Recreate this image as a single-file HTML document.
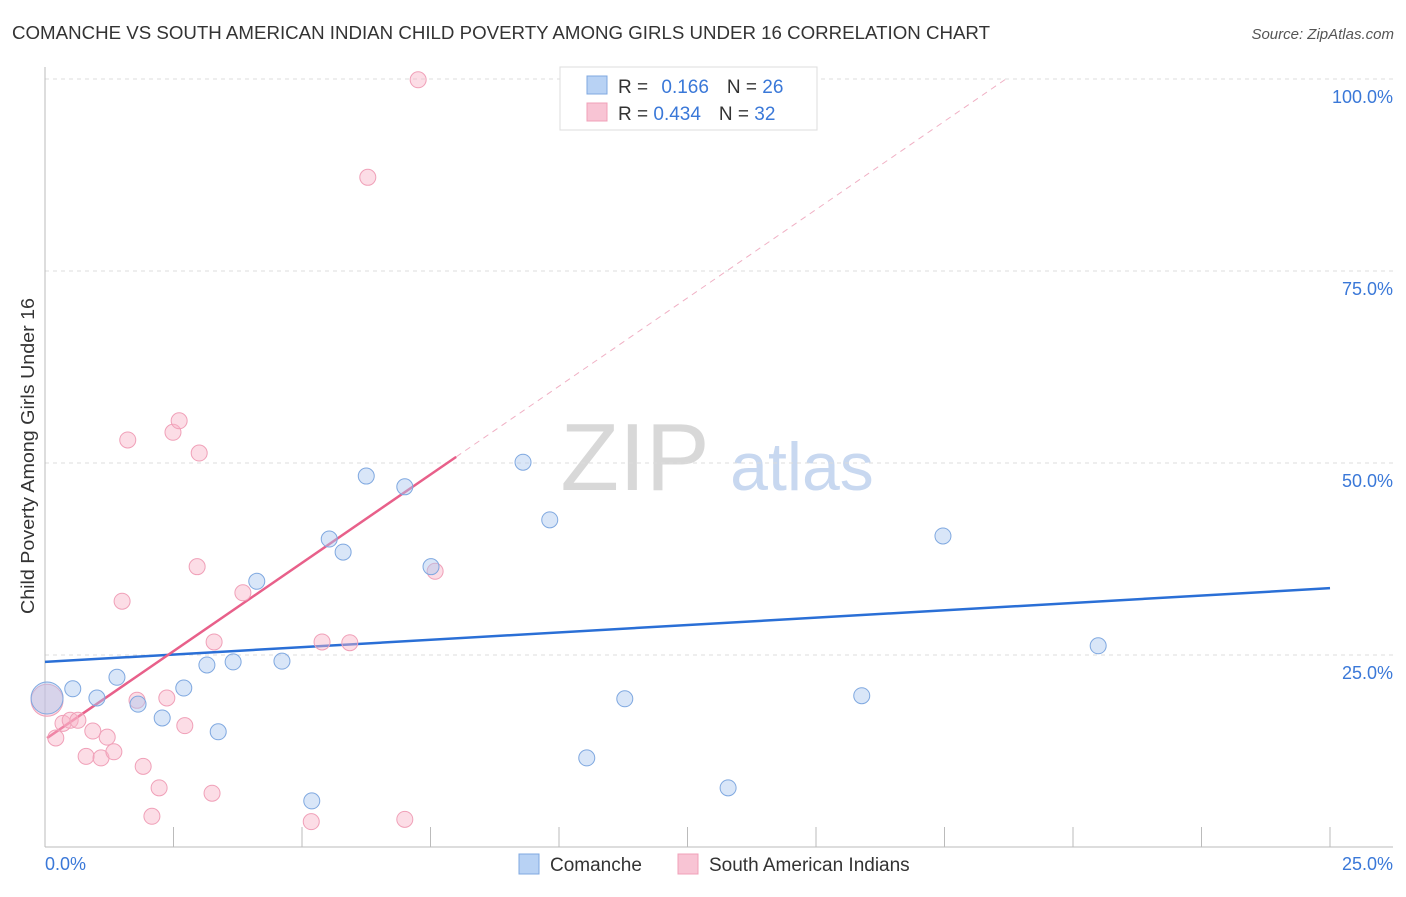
<!DOCTYPE html>
<html><head><meta charset="utf-8"><style>
body{margin:0;background:#fff;font-family:"Liberation Sans",sans-serif}
svg text{font-family:"Liberation Sans",sans-serif}
</style></head><body>
<svg width="1406" height="892" xmlns="http://www.w3.org/2000/svg" id="chart">
<text x="12" y="39" font-size="18" fill="#333" textLength="978" lengthAdjust="spacingAndGlyphs">COMANCHE VS SOUTH AMERICAN INDIAN CHILD POVERTY AMONG GIRLS UNDER 16 CORRELATION CHART</text>
<text x="1394" y="39" font-size="15" fill="#555" font-style="italic" text-anchor="end">Source: ZipAtlas.com</text>
<text x="635" y="490" font-size="96" fill="#d8d8d8" text-anchor="middle" font-family="Liberation Serif">ZIP</text>
<text x="802" y="490" font-size="68" fill="#c8d8f0" text-anchor="middle">atlas</text>
<g id="grid"></g>
<g id="axes"></g>
<g id="lines"></g>
<g id="points"></g>
<text transform="translate(34,456) rotate(-90)" font-size="18" fill="#333" text-anchor="middle" textLength="316" lengthAdjust="spacingAndGlyphs">Child Poverty Among Girls Under 16</text>
<g>
<rect x="560" y="67" width="257" height="63" fill="#fff" stroke="#ddd"/>
<rect x="587" y="76" width="20" height="18" fill="#b8d2f4" stroke="#7fa8e0"/>
<text x="618" y="93" font-size="19" fill="#333">R = <tspan fill="#3a78d8" dx="8">0.166</tspan><tspan dx="18">N = </tspan><tspan fill="#3a78d8">26</tspan></text>
<rect x="587" y="103" width="20" height="18" fill="#f8c4d4" stroke="#f0a0b8"/>
<text x="618" y="120" font-size="19" fill="#333">R = <tspan fill="#3a78d8">0.434</tspan><tspan dx="18">N = </tspan><tspan fill="#3a78d8">32</tspan></text>
</g>
<g>
<rect x="519" y="854" width="20" height="20" fill="#b8d2f4" stroke="#7fa8e0"/>
<text x="550" y="871" font-size="19" fill="#333">Comanche</text>
<rect x="678" y="854" width="20" height="20" fill="#f8c4d4" stroke="#f0a0b8"/>
<text x="709" y="871" font-size="19" fill="#333">South American Indians</text>
</g>
</svg>
<script>
const blueX=[0.04,0.54,1.01,1.40,1.81,2.28,2.70,3.15,3.37,3.66,4.61,4.12,5.19,5.53,5.80,6.25,7.00,7.51,9.30,9.82,10.54,11.28,13.29,15.89,17.47,20.49];
const blueY=[19.4,20.6,19.4,22.1,18.6,16.8,20.7,23.7,15.0,24.1,24.2,34.6,6.0,40.1,38.4,48.3,46.9,36.5,50.1,42.6,11.6,19.3,7.7,19.7,40.5,26.2];
const pinkX=[0.04,0.21,0.35,0.49,0.64,0.80,0.93,1.09,1.21,1.34,1.50,1.61,1.79,1.91,2.08,2.22,2.37,2.49,2.61,2.72,2.96,3.00,3.25,3.29,3.85,5.18,5.39,5.93,6.28,7.00,7.26,7.59];
const pinkY=[19.1,14.2,16.1,16.5,16.5,11.8,15.1,11.6,14.3,12.4,32.0,53.0,19.1,10.5,4.0,7.7,19.4,54.0,55.5,15.8,36.5,51.3,7.0,26.7,33.1,3.3,26.7,26.6,87.2,3.6,99.9,35.9];
const blueTrend=[24.1,33.7];
const pinkTrend=[14.0,4.6];
const yTicks=[25,50,75,100];
const yTickLabels=["25.0%","50.0%","75.0%","100.0%"];
const xTicks=[0,2.5,5,7.5,10,12.5,15,17.5,20,22.5,25];
const NS="http://www.w3.org/2000/svg";
const X=v=>45+v*51.4, Y=v=>847-v*7.68;
function mk(tag,attrs,parent){const e=document.createElementNS(NS,tag);for(const k in attrs)e.setAttribute(k,attrs[k]);document.getElementById(parent).appendChild(e);return e;}
yTicks.forEach((t,i)=>{
 const l=mk('line',{x1:45,x2:1393,y1:Y(t),y2:Y(t),stroke:'#ddd','stroke-dasharray':'4,4'},'grid');
 
 
 const tx=mk('text',{x:1393,y:Y(t)+24,'font-size':18,fill:'#3a78d8','text-anchor':'end'},'axes');
 tx.textContent=yTickLabels[i];
 
 
});
const ya=mk('line',{x1:45,x2:45,y1:67,y2:847,stroke:'#bbb'},'axes');


const xa=mk('line',{x1:45,x2:1393,y1:847,y2:847,stroke:'#bbb'},'axes');


xTicks.forEach(t=>{
 const l=mk('line',{x1:X(t),x2:X(t),y1:827,y2:847,stroke:'#bbb'},'axes');
 
 
});
const xl0=mk('text',{x:45,y:870,'font-size':18,fill:'#3a78d8'},'axes');xl0.textContent="0.0%";


const xl1=mk('text',{x:1393,y:870,'font-size':18,fill:'#3a78d8','text-anchor':'end'},'axes');xl1.textContent="25.0%";


function dot(x,y,i,fill,stroke,name){
 const r=i===0?16:8;
 const c=mk('circle',{cx:X(x),cy:Y(y),r:r,fill:fill,stroke:stroke,'stroke-width':1},'points');
 
 
}
pinkX.forEach((x,i)=>dot(x,pinkY[i],i,'rgba(248,180,200,0.45)','#f0a0b8','point-south-american-indians'));
blueX.forEach((x,i)=>dot(x,blueY[i],i,'rgba(170,200,240,0.45)','#7fa8e0','point-comanche'));
const bt=mk('line',{x1:X(0),y1:Y(blueTrend[0]),x2:X(25),y2:Y(blueTrend[1]),stroke:'#2a6fd6','stroke-width':2.5},'lines');


const pe=8.0, pd=(100-pinkTrend[0])/pinkTrend[1];
const pt=mk('line',{x1:X(0.04),y1:Y(pinkTrend[0]+pinkTrend[1]*0.04),x2:X(pe),y2:Y(pinkTrend[0]+pinkTrend[1]*pe),stroke:'#e8608a','stroke-width':2.5},'lines');


const pdl=mk('line',{x1:X(pe),y1:Y(pinkTrend[0]+pinkTrend[1]*pe),x2:X(pd),y2:Y(100),stroke:'#f0b0c4','stroke-width':1,'stroke-dasharray':'6,5'},'lines');


</script>
</body></html>
